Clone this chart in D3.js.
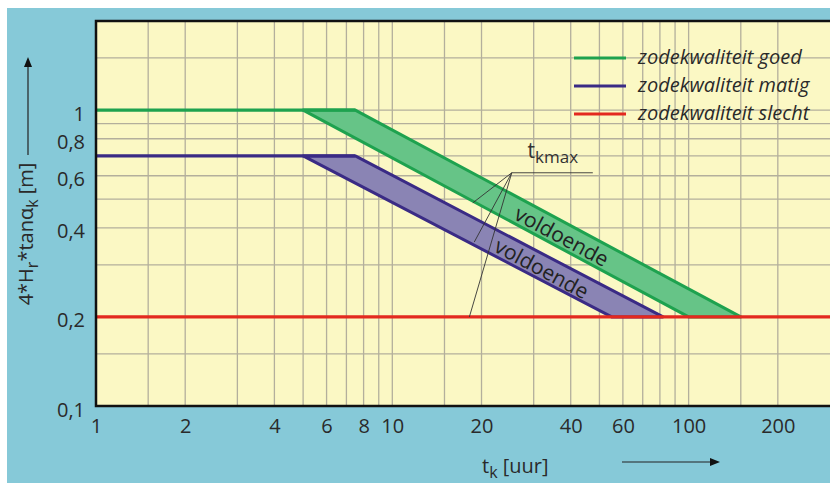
<!DOCTYPE html>
<html><head><meta charset="utf-8">
<script src="https://cdn.jsdelivr.net/npm/d3@7"></script>
<style>
html,body{margin:0;padding:0;background:#fff;}
svg{display:block;font-family:"Open Sans","Noto Sans",sans-serif;}
</style></head>
<body>
<svg id="c" width="830" height="483"></svg>
<script>
// ---- data ----
const xTickValues = [1,2,4,6,8,10,20,40,60,100,200];
const xTickLabels = ["1","2","4","6","8","10","20","40","60","100","200"];
const yTickValues = [0.1,0.2,0.4,0.6,0.8,1];
const yTickLabels = ["0,1","0,2","0,4","0,6","0,8","1"];
const xGridValues = [1.5,2,3,4,5,6,7,8,9,10,15,20,30,40,50,60,70,80,90,100,150,200];
const yGridValues = [0.15,0.2,0.3,0.4,0.5,0.6,0.7,0.8,0.9,1,1.5];
const seriesNames = ["zodekwaliteit goed","zodekwaliteit matig","zodekwaliteit slecht"];
const seriesColors = ["#1ea24f","#3a2b85","#e3291f"];
const bandFills = ["#66c487","#8a84b4"];
const goedLevel = [[1,1],[7.5,1]];
const goedBand = [[5,1],[7.5,1],[150,0.2],[100,0.2]];
const matigLevel = [[1,0.7],[7.5,0.7]];
const matigBand = [[5,0.7],[7.5,0.7],[82,0.2],[55,0.2]];
const slechtLine = [[1,0.2],[300,0.2]];
const bandLabel = "voldoende";
const goedLabelPos = [37.3,0.374];
const matigLabelPos = [31.9,0.291];
const tkmaxOrigin = [25.3,0.614];
const tkmaxRuleEnd = [47.5,0.614];
const tkmaxTargets = [[18.7,0.486],[18.9,0.358],[18.2,0.2]];
const tkmaxTextPos = [28.6,0.69];

// ---- layout ----
const svg = d3.select("#c");
const X0=96, X1=830, Y0=406, Y1=21;
const x = d3.scaleLog().domain([1,300]).range([X0,X1]);
const y = d3.scaleLog().domain([0.1,2]).range([Y0,Y1]);

svg.append("rect").attr("x",7).attr("y",8).attr("width",823).attr("height",475).attr("fill","#86c9d8");
svg.append("rect").attr("x",X0).attr("y",Y1).attr("width",X1-X0).attr("height",Y0-Y1).attr("fill","#fbf8c4");

const grid = svg.append("g").attr("stroke","#b3af9c").attr("stroke-width",1.3);
grid.selectAll(".vx").data(xGridValues).enter().append("line")
  .attr("x1",d=>x(d)).attr("x2",d=>x(d)).attr("y1",Y1).attr("y2",Y0);
grid.selectAll(".hy").data(yGridValues).enter().append("line")
  .attr("y1",d=>y(d)).attr("y2",d=>y(d)).attr("x1",X0).attr("x2",X1);

const line = d3.line().x(d=>x(d[0])).y(d=>y(d[1]));
const poly = d => line(d)+"Z";

// bands
svg.append("path").attr("d",poly(goedBand)).attr("fill",bandFills[0]).attr("stroke",seriesColors[0]).attr("stroke-width",3).attr("stroke-linejoin","round");
svg.append("path").attr("d",poly(matigBand)).attr("fill",bandFills[1]).attr("stroke",seriesColors[1]).attr("stroke-width",3).attr("stroke-linejoin","round");
svg.append("path").attr("d",line(goedLevel)).attr("fill","none").attr("stroke",seriesColors[0]).attr("stroke-width",3.2);
svg.append("path").attr("d",line(matigLevel)).attr("fill","none").attr("stroke",seriesColors[1]).attr("stroke-width",3.2);
svg.append("path").attr("d",line(slechtLine)).attr("fill","none").attr("stroke",seriesColors[2]).attr("stroke-width",3.2);

// band labels
const ang = Math.atan2(y(0.2)-y(1), x(100)-x(5))*180/Math.PI;
[[goedLabelPos],[matigLabelPos]].forEach(([p])=>{
  svg.append("text").attr("transform",`translate(${x(p[0])},${y(p[1])}) rotate(${ang})`)
    .attr("text-anchor","middle").attr("dy","0.35em").attr("font-size",21).attr("fill","#222")
    .text(bandLabel);
});

// tkmax annotation
const ann = svg.append("g").attr("stroke","#333").attr("stroke-width",0.9).attr("fill","none");
ann.append("line").attr("x1",x(tkmaxOrigin[0])).attr("y1",y(tkmaxOrigin[1])).attr("x2",x(tkmaxRuleEnd[0])).attr("y2",y(tkmaxRuleEnd[1]));
tkmaxTargets.forEach(t=>{
  ann.append("line").attr("x1",x(tkmaxOrigin[0])).attr("y1",y(tkmaxOrigin[1])).attr("x2",x(t[0])).attr("y2",y(t[1]));
});
const tk = svg.append("text").attr("x",x(tkmaxTextPos[0])).attr("y",y(tkmaxTextPos[1])).attr("font-size",21).attr("fill","#333");
tk.append("tspan").text("t");
tk.append("tspan").attr("dy",5).attr("font-size",17).text("kmax");

// frame
svg.append("path").attr("d",`M${X1},${Y1}H${X0}V${Y0}H${X1}`).attr("fill","none").attr("stroke","#111").attr("stroke-width",2.5);

// axes via d3
const xAxis = d3.axisBottom(x).tickValues(xTickValues).tickSize(0).tickPadding(0)
  .tickFormat((d,i)=>xTickLabels[i]);
const gx = svg.append("g").attr("transform",`translate(0,${Y0})`).call(xAxis);
gx.select(".domain").remove();
gx.selectAll("text").attr("font-size",20).attr("fill","#2a2a2a").attr("font-family","Open Sans")
  .attr("dy",null).attr("y",27);

const yAxis = d3.axisLeft(y).tickValues(yTickValues).tickSize(0).tickPadding(0)
  .tickFormat((d,i)=>yTickLabels[i]);
const gy = svg.append("g").attr("transform",`translate(${X0-11},0)`).call(yAxis);
gy.select(".domain").remove();
gy.selectAll("text").attr("font-size",20).attr("fill","#2a2a2a").attr("font-family","Open Sans")
  .attr("dy",null).attr("y",10);

// axis titles
const xt = svg.append("text").attr("x",482).attr("y",473).attr("font-size",20).attr("fill","#2a2a2a");
xt.append("tspan").text("t");
xt.append("tspan").attr("dy",5).attr("font-size",16).text("k");
xt.append("tspan").attr("dy",-5).text(" [uur]");

const yt = svg.append("text").attr("transform","translate(33,234) rotate(-90)").attr("text-anchor","middle").attr("font-size",20).attr("fill","#2a2a2a");
yt.append("tspan").text("4*H");
yt.append("tspan").attr("dy",5).attr("font-size",16).text("r");
yt.append("tspan").attr("dy",-5).text("*tan\u03b1");
yt.append("tspan").attr("dy",5).attr("font-size",16).text("k");
yt.append("tspan").attr("dy",-5).text(" [m]");

// arrows
svg.append("line").attr("x1",28).attr("y1",155).attr("x2",28).attr("y2",64).attr("stroke","#222").attr("stroke-width",1.2);
svg.append("path").attr("d","M28,57L24,67L32,67Z").attr("fill","#111");
svg.append("line").attr("x1",622).attr("y1",462).attr("x2",712).attr("y2",462).attr("stroke","#222").attr("stroke-width",1.2);
svg.append("path").attr("d","M720,462L710,458L710,466Z").attr("fill","#111");

// legend
const legY = [58,86,114];
const lg = svg.append("g");
seriesNames.forEach((n,i)=>{
  lg.append("line").attr("x1",574).attr("x2",626).attr("y1",legY[i]).attr("y2",legY[i]).attr("stroke",seriesColors[i]).attr("stroke-width",3.2);
  lg.append("text").attr("x",638).attr("y",legY[i]+6).attr("font-size",20).attr("font-style","italic").attr("fill","#2a2a2a").text(n);
});
</script>
</body></html>
